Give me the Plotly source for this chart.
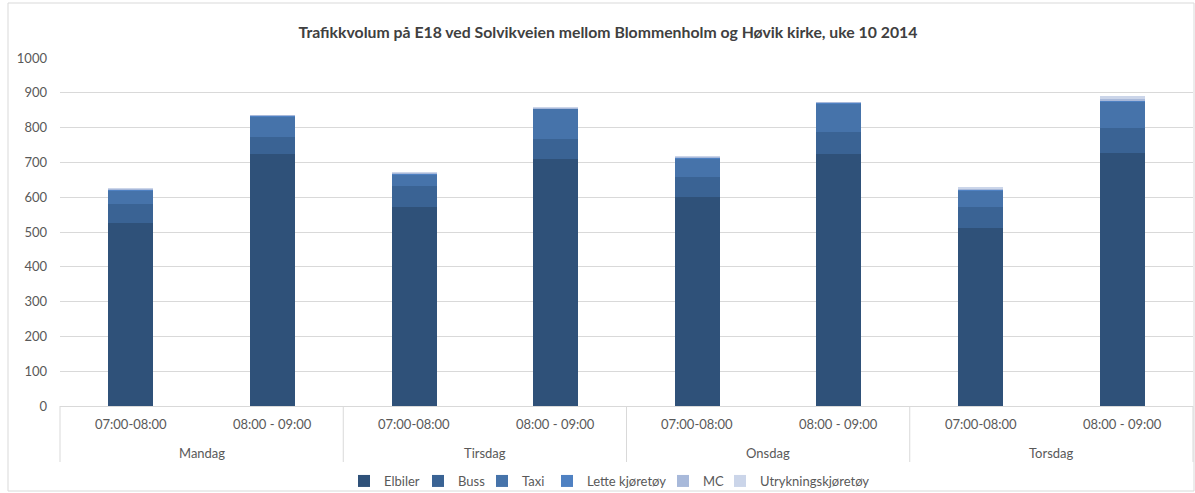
import plotly.graph_objects as go

days = ["Mandag", "Mandag", "Tirsdag", "Tirsdag", "Onsdag", "Onsdag", "Torsdag", "Torsdag"]
times = ["07:00-08:00", "08:00 - 09:00"] * 4

elbiler = [527, 724, 573, 710, 601, 724, 512, 728]
buss = [53, 48, 59, 58, 58, 62, 59, 70]
taxi = [38, 60, 32, 86, 53, 83, 47, 76]
lette = [4, 3, 4, 2, 3, 2, 3, 3]
mc = [2, 1, 2, 1, 1, 1, 4, 6]
utrykning = [1, 0, 2, 1, 1, 0, 2, 8]

series = [
    ("Elbiler", elbiler, "#2f5179"),
    ("Buss", buss, "#3a6394"),
    ("Taxi", taxi, "#4673aa"),
    ("Lette kjøretøy", lette, "#4f81c2"),
    ("MC", mc, "#a8b9da"),
    ("Utrykningskjøretøy", utrykning, "#cbd5e9"),
]

W, H = 1195, 493
L, R, T, B = 60, 2, 58, 87
pw, ph = W - L - R, H - T - B

def px(x):
    return (x - L) / pw

def py(y):
    return (H - B - y) / ph

# approximate rendered text widths of the legend labels (px), used for spacing
label_w = [37, 27, 28, 79, 20, 108]
item_w = [26 + w for w in label_w]   # square left edge -> text end
gap = 11
total = sum(item_w) + gap * (len(item_w) - 1)
start = 613 - total / 2

fig = go.Figure()
legends = {}
cur = start
for k, (name, vals, color) in enumerate(series):
    lname = "legend" if k == 0 else f"legend{k + 1}"
    fig.add_trace(go.Bar(
        x=[days, times], y=vals, name=name, legend=lname,
        marker=dict(color=color, line=dict(width=0)),
    ))
    legends[lname] = dict(
        orientation="h", x=px(cur - 14), xanchor="left",
        y=py(481), yanchor="middle",
        font=dict(size=13, color="#595959"), itemwidth=30,
        bgcolor="rgba(0,0,0,0)",
    )
    cur += item_w[k] + gap

# category / group labels as text below the axis
n = len(times)
annotations = []
for i, t in enumerate(times):
    annotations.append(dict(
        text=t, xref="paper", yref="paper", x=(i + 0.5) / n, y=py(424),
        xanchor="center", yanchor="middle", showarrow=False,
        font=dict(size=13, color="#595959"),
    ))
groups = []
for i, d in enumerate(days):
    if not groups or groups[-1][0] != d:
        groups.append([d, i, i])
    else:
        groups[-1][2] = i
shapes = []
for d, i0, i1 in groups:
    annotations.append(dict(
        text=d, xref="paper", yref="paper", x=(i0 + i1 + 1) / 2 / n, y=py(453),
        xanchor="center", yanchor="middle", showarrow=False,
        font=dict(size=13, color="#595959"),
    ))
bounds = sorted({g[1] for g in groups} | {groups[-1][2] + 1})
for b in bounds:
    shapes.append(dict(
        type="line", xref="paper", yref="paper", x0=b / n, x1=b / n,
        y0=py(406), y1=py(462), line=dict(color="#d9d9d9", width=1),
    ))
shapes.append(dict(
    type="rect", xref="paper", yref="paper",
    x0=px(8), x1=px(1194), y0=py(491), y1=py(3),
    line=dict(color="#d9d9d9", width=1), fillcolor="rgba(0,0,0,0)",
    layer="below",
))

fig.update_layout(
    width=W, height=H,
    showlegend=True,
    margin=dict(l=L, r=R, t=T, b=B, autoexpand=False),
    barmode="stack",
    bargap=0.683,
    paper_bgcolor="white",
    plot_bgcolor="white",
    font=dict(family="Lato, Open Sans, sans-serif", size=13, color="#595959"),
    title=dict(
        text="<b>Trafikkvolum på E18 ved Solvikveien mellom Blommenholm og Høvik kirke, uke 10 2014</b>",
        x=px(608), xanchor="center", xref="paper", y=1 - 32 / H, yanchor="middle",
        font=dict(size=15.8, color="#404040"),
    ),
    xaxis=dict(
        type="multicategory",
        automargin=False,
        showline=True, linecolor="#d9d9d9", linewidth=1,
        showdividers=False, showticklabels=False,
        showgrid=False,
    ),
    yaxis=dict(
        automargin=False,
        range=[0, 1000], dtick=100,
        showgrid=True, gridcolor="#d9d9d9", gridwidth=1,
        zeroline=False, showline=False,
        tickfont=dict(size=13, color="#595959"),
        ticks="", ticklabelstandoff=12,
    ),
    annotations=annotations,
    shapes=shapes,
    **legends,
)

fig.write_html("out.html")
